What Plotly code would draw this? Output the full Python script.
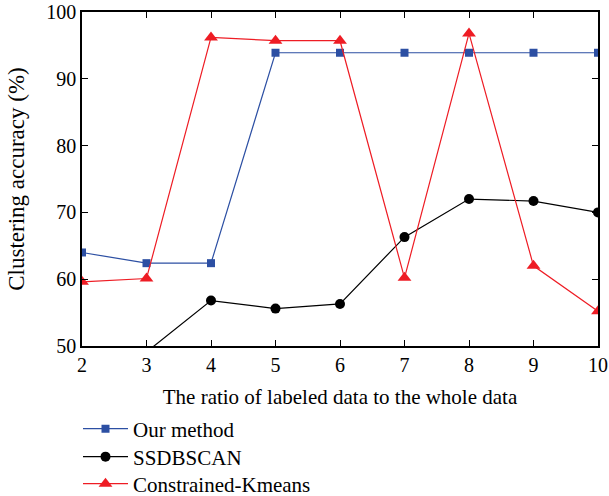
import plotly.graph_objects as go

x_ratio = [2, 3, 4, 5, 6, 7, 8, 9, 10]
our_method = [64.0, 62.4, 62.4, 93.9, 93.9, 93.9, 93.9, 93.9, 93.9]
ssdbscan = [46.0, 49.1, 56.8, 55.6, 56.3, 66.3, 72.0, 71.7, 70.0]
constrained_kmeans = [59.6, 60.1, 96.2, 95.7, 95.7, 60.2, 96.8, 62.0, 55.2]
x_ticks = [2, 3, 4, 5, 6, 7, 8, 9, 10]
y_ticks = [50, 60, 70, 80, 90, 100]

font_family = "Liberation Serif"
W, H = 609, 496
PLOT_L, PLOT_R, PLOT_T, PLOT_B = 82, 598, 12, 346

fig = go.Figure()
fig.add_trace(go.Scatter(
    x=x_ratio, y=our_method, name="Our method", mode="lines+markers",
    line=dict(color="#2c4fa3", width=1.2),
    marker=dict(symbol="square", size=8, color="#2c4fa3"), legend="legend"))
fig.add_trace(go.Scatter(
    x=x_ratio, y=ssdbscan, name="SSDBSCAN", mode="lines+markers",
    line=dict(color="black", width=1.2),
    marker=dict(symbol="circle", size=10, color="black"), legend="legend2"))
fig.add_trace(go.Scatter(
    x=x_ratio, y=constrained_kmeans, name="Constrained-Kmeans", mode="lines+markers",
    line=dict(color="#ee1c24", width=1.2),
    marker=dict(symbol="triangle-up", size=12, color="#ee1c24"), legend="legend3"))

axis_common = dict(
    showline=True, linecolor="black", linewidth=1.5, mirror="ticks",
    ticks="inside", ticklen=6, tickcolor="black", tickwidth=1.2,
    showgrid=False, zeroline=False,
    tickfont=dict(family=font_family, size=20, color="black"),
)


def legend_at(center_y):
    return dict(x=(78 - PLOT_L) / (PLOT_R - PLOT_L),
                y=(PLOT_B - center_y) / (PLOT_B - PLOT_T),
                xanchor="left", yanchor="middle",
                font=dict(family=font_family, size=21, color="black"),
                bgcolor="rgba(0,0,0,0)", itemwidth=45)


fig.update_layout(
    width=W, height=H,
    margin=dict(l=PLOT_L, r=W - PLOT_R, t=PLOT_T, b=H - PLOT_B, autoexpand=False),
    paper_bgcolor="white", plot_bgcolor="white",
    font=dict(family=font_family, size=21, color="black"),
    xaxis=dict(range=[2, 10], tickvals=x_ticks, **axis_common,
               title=dict(text="The ratio of labeled data to the whole data",
                          font=dict(family=font_family, size=21))),
    yaxis=dict(range=[50, 100], tickvals=y_ticks, ticksuffix="\u2009", **axis_common,
               title=dict(text="Clustering accuracy (%)",
                          font=dict(family=font_family, size=23))),
    showlegend=True,
    legend=legend_at(429),
    legend2=legend_at(457),
    legend3=legend_at(484),
)

fig.write_html("out.html", config={"displayModeBar": False},
               post_script="document.body.style.margin='0';")
